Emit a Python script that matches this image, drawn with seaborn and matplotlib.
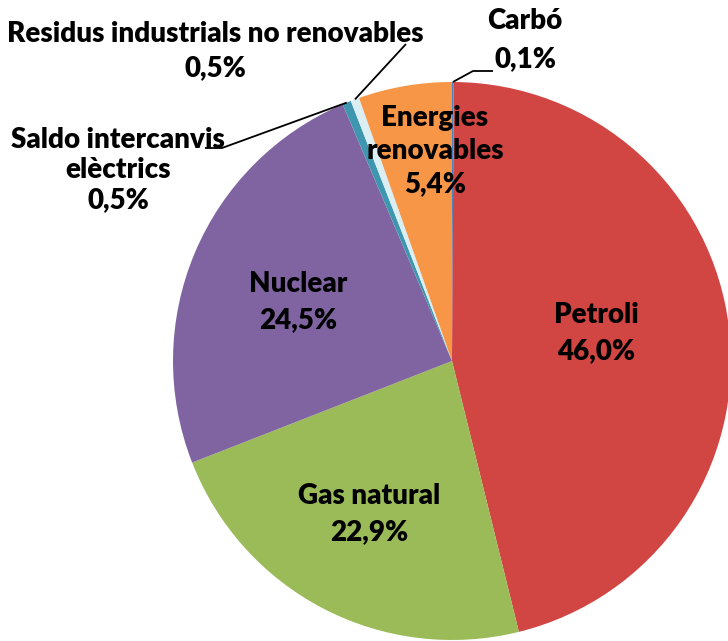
import numpy as np
import seaborn as sns
import matplotlib.pyplot as plt

# energy sources, clockwise from 12 o'clock
sources = ["Carbó", "Petroli", "Gas natural", "Nuclear",
           "Saldo intercanvis\nelèctrics", "Residus industrials no renovables",
           "Energies\nrenovables"]
shares = [0.1, 46.0, 22.9, 24.5, 0.5, 0.5, 5.4]
colors = ["#4F81BD", "#D14543", "#9BBB59", "#8064A2", "#3F97AF", "#DAEEF3", "#F79646"]

sns.set_theme(style="white")
plt.rcParams['font.family'] = ['Lato', 'DejaVu Sans']

fig = plt.figure(figsize=(7.28, 6.41), dpi=100)
ax = fig.add_axes([0, 0, 1, 1])

wedges, _ = ax.pie(shares, colors=sns.color_palette(colors), startangle=90,
                   counterclock=False, radius=1.0,
                   wedgeprops={'linewidth': 0})


def pct(v):
    return f"{v:.1f}%".replace(".", ",")


# pixel positions converted to data units
def px(x, y):
    return ((x - 452) / 279, (361 - y) / 279)


FS = 20
# labels inside the big slices: position, line spacing
inside = {1: (px(596, 333), 1.5), 2: (px(369, 514), 1.45),
          3: (px(298, 302), 1.45), 6: (px(435, 151), 1.35)}
for i, (pos, ls) in inside.items():
    ax.text(*pos, f"{sources[i]}\n{pct(shares[i])}", ha="center", va="center",
            fontsize=FS, fontweight="heavy", color="black", linespacing=ls)

# outside labels with leader lines
outside = {0: (px(525, 40), 1.6, [px(493, 71), px(473, 71)]),
           5: (px(215, 51), 1.4, [px(406, 44)]),
           4: (px(118, 170), 1.2, [px(205, 148), px(222, 148)])}
for i, (pos, ls, path) in outside.items():
    w = wedges[i]
    mid = np.deg2rad((w.theta1 + w.theta2) / 2)
    edge = (np.cos(mid), np.sin(mid))
    pts = path + [edge]
    ax.plot([p[0] for p in pts], [p[1] for p in pts], color="black", lw=1.3,
            solid_capstyle="butt")
    ax.text(*pos, f"{sources[i]}\n{pct(shares[i])}", ha="center", va="center",
            fontsize=FS, fontweight="heavy", color="black", linespacing=ls)

ax.set_xlim(-452 / 279, (728 - 452) / 279)
ax.set_ylim(-(641 - 361) / 279, 361 / 279)
ax.set_aspect("equal")
ax.axis("off")

fig.savefig("out.png", dpi=100)
